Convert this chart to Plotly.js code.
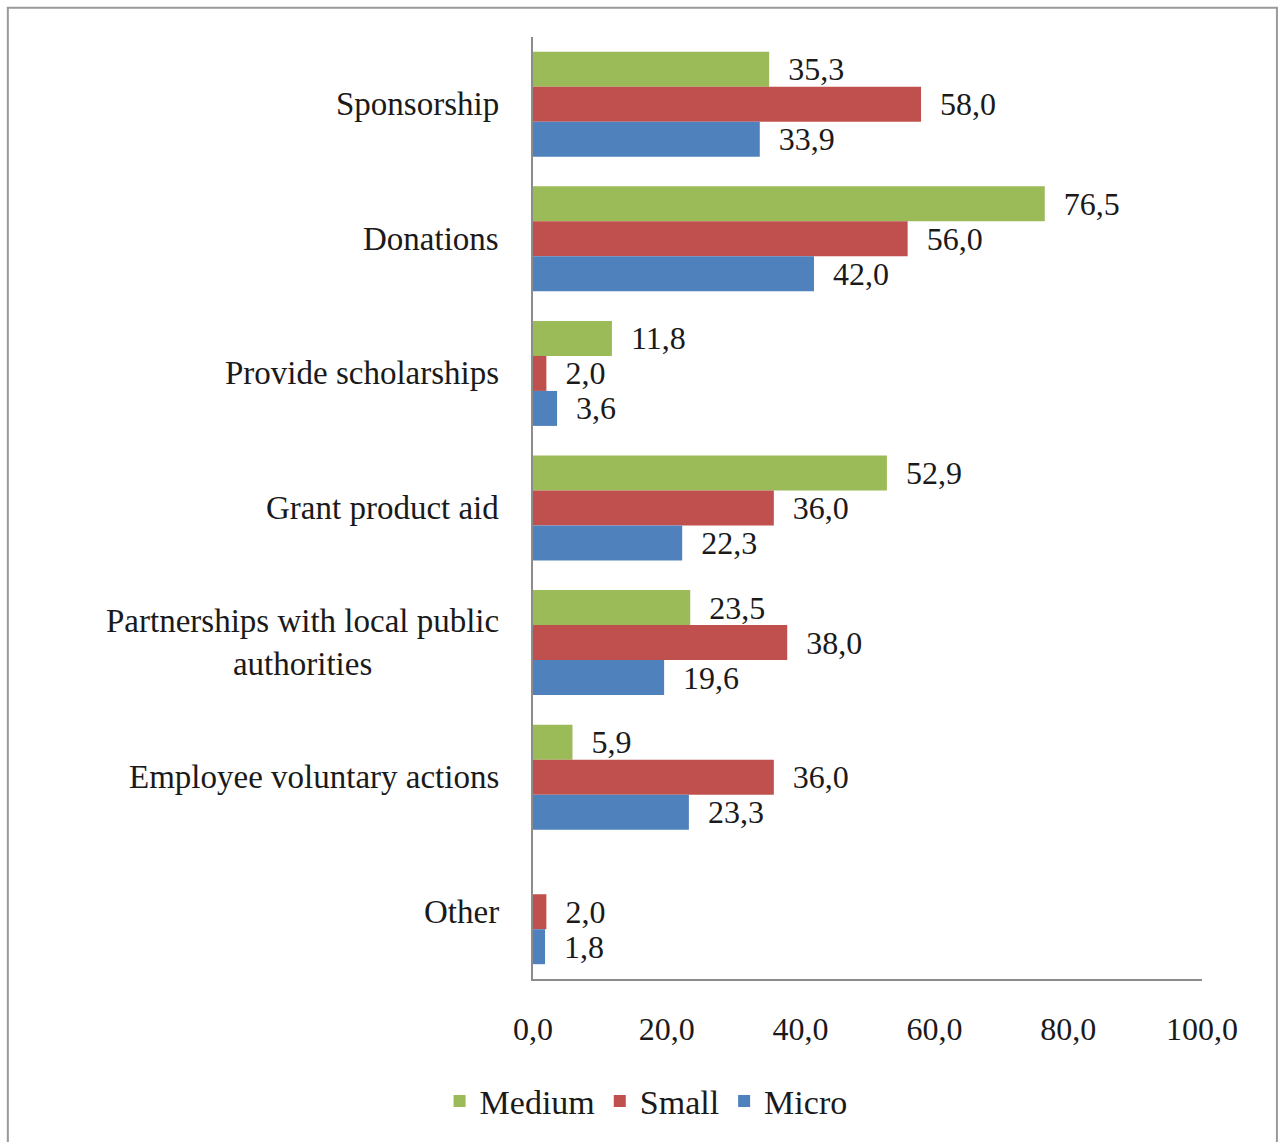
<!DOCTYPE html>
<html>
<head>
<meta charset="utf-8">
<script src="https://cdn.plot.ly/plotly-3.0.1.min.js"></script>
<style>
  html, body { margin: 0; padding: 0; background: #fff; }
  #chart { width: 1278px; height: 1142px; }
</style>
</head>
<body>
<div id="chart"></div>
<script>
const categories = ['Sponsorship', 'Donations', 'Provide scholarships', 'Grant product aid',
	'Partnerships with local public<br>authorities', 'Employee voluntary actions', 'Other'];
const medium = [35.3, 76.5, 11.8, 52.9, 23.5, 5.9, null];
const small = [58.0, 56.0, 2.0, 36.0, 38.0, 36.0, 2.0];
const micro = [33.9, 42.0, 3.6, 22.3, 19.6, 23.3, 1.8];
const xTicks = [0, 20, 40, 60, 80, 100];

const serif = 'Liberation Serif';
const ink = '#1a1a1a';

function serie(name, vals, color) {
	return {
		type: 'bar',
		orientation: 'h',
		name: name,
		y: categories,
		x: vals,
		marker: { color: color },
		texttemplate: '\u00a0\u00a0%{x:.1f}',
		textposition: 'outside',
		constraintext: 'none',
		cliponaxis: false,
		textfont: { family: serif, size: 32, color: ink },
		hoverinfo: 'skip'
	};
}

const data = [
	serie('Medium', medium, '#9BBB59'),
	serie('Small', small, '#C0504D'),
	serie('Micro', micro, '#4F81BD')
];

const labels = categories.map(function (c) {
	return {
		xref: 'paper', yref: 'y',
		x: -0.048, y: c,
		xanchor: 'right', yanchor: 'middle',
		text: c, align: 'center', showarrow: false,
		font: { family: serif, size: 33, color: ink }
	};
});

const layout = {
	width: 1278,
	height: 1142,
	margin: { l: 533, r: 76, t: 37, b: 159 },
	paper_bgcolor: '#ffffff',
	plot_bgcolor: '#ffffff',
	separators: ', ',
	barmode: 'group',
	bargap: 0.22,
	bargroupgap: 0,
	showlegend: true,
	legend: {
		orientation: 'h',
		x: 0.169, xanchor: 'center',
		y: -0.13, yanchor: 'middle',
		font: { family: serif, size: 34, color: ink },
		traceorder: 'normal'
	},
	xaxis: {
		range: [0, 100],
		tickvals: xTicks,
		tickformat: '.1f',
		showgrid: false,
		zeroline: false,
		showline: true,
		linecolor: '#8c8c8c',
		linewidth: 2,
		ticks: '',
		ticklabelstandoff: 21,
		tickfont: { family: serif, size: 32, color: ink },
		fixedrange: true
	},
	yaxis: {
		type: 'category',
		categoryorder: 'array',
		categoryarray: categories,
		autorange: 'reversed',
		showticklabels: false,
		showgrid: false,
		zeroline: false,
		showline: true,
		linecolor: '#8c8c8c',
		linewidth: 2,
		ticks: '',
		fixedrange: true
	},
	annotations: labels,
	shapes: [{
		type: 'rect', xref: 'paper', yref: 'paper',
		x0: -0.785, x1: 1.112, y0: -0.2, y1: 1.031,
		line: { color: '#9a9a9a', width: 2 }
	}]
};

Plotly.newPlot('chart', data, layout, { staticPlot: true });
</script>
</body>
</html>
